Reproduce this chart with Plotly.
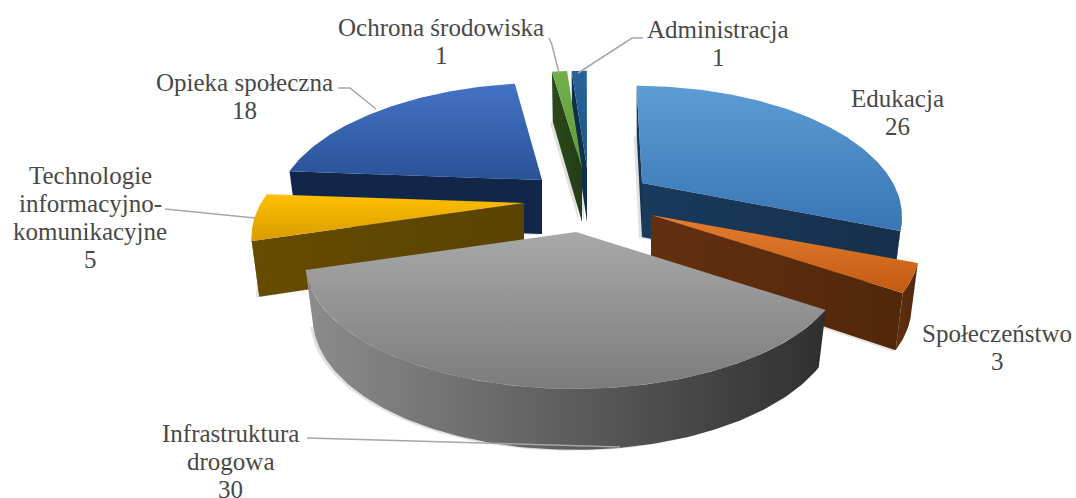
import numpy as np
import plotly.graph_objects as go

# --- data ---
categories = ["Edukacja", "Społeczeństwo", "Infrastruktura drogowa",
              "Technologie informacyjno-komunikacyjne", "Opieka społeczna",
              "Ochrona środowiska", "Administracja"]
values = [26, 3, 30, 5, 18, 1, 1]
label_lines = [["Edukacja"], ["Społeczeństwo"], ["Infrastruktura", "drogowa"],
               ["Technologie", "informacyjno-", "komunikacyjne"], ["Opieka społeczna"],
               ["Ochrona środowiska"], ["Administracja"]]

# --- style / layout of the exploded 3D look ---
apex = [(642, 183), (651, 215), (576, 232), (524, 203), (542, 180), (582, 168), (587, 168)]
radius = [251, 259, 263, 263, 258, 251, 251]
top_colors = [("#5d9cd6", "#3875b4"), ("#e57e30", "#c25a11"), ("#a8a8a8", "#7c7c7c"),
              ("#ffc000", "#d89c00"), ("#4472c4", "#2a5298"), ("#72b04a", "#5f9a3c"),
              ("#27639a", "#1f5486")]
wall_colors = [("#1a3a5c", "#16304c"), ("#63300f", "#522709"), ("#8c8c8c", "#2f2f2f"),
               ("#654c00", "#594300"), ("#12264a", "#12264a"), ("#2b4a1a", "#233d15"),
               ("#0f2d4c", "#0f2d4c")]
draw_order = [6, 5, 0, 4, 1, 3, 2]
label_x = [897, 997, 230, 90, 244, 441, 718]
label_y = [98, 333, 433, 175, 82, 27, 29]
LINE_STEP = 28
leaders = [([578, 632, 643], [73, 38, 38]), ([559, 552, 549], [73, 45, 38]),
           ([376, 350, 338], [109, 88, 88]), ([255, 165], [218, 209]),
           ([307, 620], [438, 447])]

KY, P, H, VP = 120, 0.235, 54, 585


def project(cx, cy, R, theta):
    X, Y = np.sin(theta), np.cos(theta)
    s = 1 / (1 + P * Y)
    return cx + R * X * s + (cx - VP) * (s - 1) * 0.5, cy - KY * Y * s, s


def drop(cx, x, y, s):
    # bottom edge of the wall under a top-face point
    return cx + (x - cx) * 0.972, y + H * (1 + (s - 1) * 0.42)


def face(fig, xs, ys, colors, kind="vertical", rev=False):
    a, b = (colors[1], colors[0]) if rev else colors
    fig.add_trace(go.Scatter(
        x=list(xs) + [xs[0]], y=list(ys) + [ys[0]], mode="lines", line=dict(width=0),
        fill="toself",
        fillgradient=dict(type=kind, colorscale=[[0, a], [1, b]]),
        hoverinfo="skip", showlegend=False))


def faces_viewer(x0, y0, x1, y1, px, py):
    # the wall hangs below edge 0-1; it shows if "down" and the inside point lie on opposite sides
    ex, ey = x1 - x0, y1 - y0
    return ex * (ex * (py - y0) - ey * (px - x0)) < 0


fig = go.Figure()
total = sum(values)
edges = np.cumsum([0] + values) / total * 2 * np.pi

geo = []
for i in range(len(values)):
    t0, t1 = edges[i], edges[i + 1]
    n = max(3, int((t1 - t0) * 60))
    th = np.array([t0 + (t1 - t0) * k / n for k in range(n + 1)])
    cx, cy = apex[i]
    ax, ay, s = project(cx, cy, radius[i], th)
    bx, by = drop(cx, ax, ay, s)
    geo.append((cx, cy, ax, ay, bx, by, s))

# soft drop shadows
for i in draw_order:
    cx, cy, ax, ay, bx, by, s = geo[i]
    bcx, bcy = drop(cx, cx, cy, 1.0)
    sx = np.r_[bcx, bx] - 3
    sy = np.r_[bcy, by] + 1
    fig.add_trace(go.Scatter(x=np.r_[sx, sx[0]], y=np.r_[sy, sy[0]], mode="lines", line=dict(width=0),
                             fill="toself", fillcolor="rgba(0,0,0,0.12)", hoverinfo="skip", showlegend=False))

for i in draw_order:
    cx, cy, ax, ay, bx, by, s = geo[i]
    bcx, bcy = drop(cx, cx, cy, 1.0)
    wc = wall_colors[i]
    midx, midy = ax[len(ax) // 2], ay[len(ay) // 2]
    # radial walls that face the viewer
    if faces_viewer(cx, cy, ax[0], ay[0], midx, midy):
        face(fig, [cx, ax[0], bx[0], bcx], [cy, ay[0], by[0], bcy], wc, "horizontal")
    if faces_viewer(cx, cy, ax[-1], ay[-1], midx, midy):
        face(fig, [cx, ax[-1], bx[-1], bcx], [cy, ay[-1], by[-1], bcy], wc, "horizontal")
    # outer wall: only the arc segments that face the viewer
    keep = [k for k in range(len(ax) - 1)
            if faces_viewer(ax[k], ay[k], ax[k + 1], ay[k + 1], cx, cy)]
    if keep:
        idx = list(range(keep[0], keep[-1] + 2))
        face(fig, np.r_[ax[idx], bx[idx][::-1]], np.r_[ay[idx], by[idx][::-1]], wc, "horizontal")
    # top
    face(fig, np.r_[cx, ax], np.r_[cy, ay], top_colors[i], "vertical", True)

shapes = [dict(type="path",
               path="M" + " L".join(f"{a},{b}" for a, b in zip(lx, ly)),
               line=dict(color="#a6a6a6", width=1.5), layer="above")
          for lx, ly in leaders]

annotations = []
for lines, v, lx, ly in zip(label_lines, values, label_x, label_y):
    for k, t in enumerate(lines + [str(v)]):
        annotations.append(dict(x=lx, y=ly + k * LINE_STEP, xref="x", yref="y", showarrow=False,
                                text=t, xanchor="center", yanchor="middle",
                                font=dict(family="Liberation Serif", size=25, color="#484848")))

fig.update_layout(
    width=1076, height=498, margin=dict(l=0, r=0, t=0, b=0),
    paper_bgcolor="white", plot_bgcolor="white", showlegend=False,
    xaxis=dict(range=[0, 1076], visible=False, fixedrange=True),
    yaxis=dict(range=[498, 0], visible=False, fixedrange=True),
    shapes=shapes, annotations=annotations)
fig.write_html("out.html", config=dict(displayModeBar=False),
               post_script="document.body.style.margin='0';document.body.style.overflow='hidden';")
